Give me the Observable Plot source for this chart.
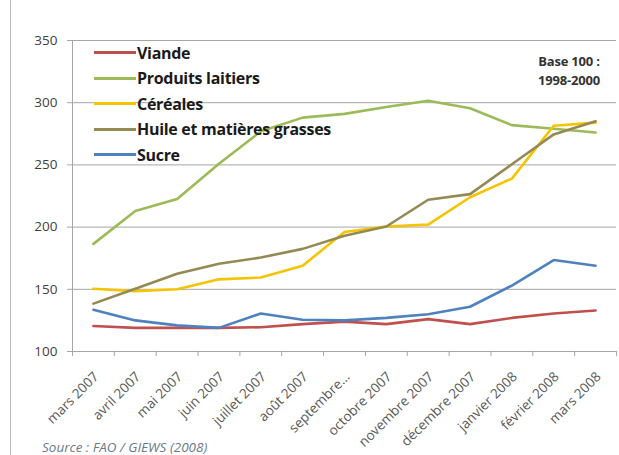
<!DOCTYPE html>
<html>
<head>
<meta charset="utf-8">
<script src="https://cdn.jsdelivr.net/npm/d3@7"></script>
<script src="https://cdn.jsdelivr.net/npm/@observablehq/plot@0.6"></script>
<style>
  html, body { margin: 0; padding: 0; background: #fff; }
  #wrap { position: relative; width: 619px; height: 455px; overflow: hidden; font-family: "Open Sans", Lato, sans-serif; }
  #frame { position: absolute; left: 10px; top: 0; width: 1px; height: 455px; background: #b8b8b8; }
  #legend { position: absolute; left: 94px; top: 40px; }
  .lg { display: flex; align-items: center; height: 25.5px; font-weight: bold; font-size: 16px; color: #1a1a1a; letter-spacing: -0.3px; }
  .lg span.sw { display: inline-block; width: 42px; height: 3px; margin-right: 1px; }
  #base { position: absolute; left: 522px; top: 52px; width: 94px; text-align: center; font-weight: bold; font-size: 13px; line-height: 19px; color: #333; letter-spacing: -0.2px; }
  #source { position: absolute; left: 42px; top: 440px; font-style: italic; font-size: 13.5px; line-height: 14px; color: #6a7a8a; }
</style>
</head>
<body>
<div id="wrap">
  <div id="chart"></div>
  <div id="frame"></div>
  <div id="legend"></div>
  <div id="base">Base 100 :<br>1998-2000</div>
  <div id="source">Source : FAO / GIEWS (2008)</div>
</div>
<script>
const months = ["mars 2007","avril 2007","mai 2007","juin 2007","juillet 2007","août 2007","septembre...","octobre 2007","novembre 2007","décembre 2007","janvier 2008","février 2008","mars 2008"];
const seriesNames = ["Viande","Produits laitiers","Céréales","Huile et matières grasses","Sucre"];
const seriesColors = ["#C0504D","#9BBB59","#F5C400","#948A54","#4F81BD"];
const viande = [120.5,119,119,119,119.5,122,124,122,126,122,127,130.5,133];
const laitiers = [186.5,213,222.5,251,277,288,291,296.5,301.5,295.5,282,279,276];
const cereales = [150.5,148.5,150,158,159.5,169,196,200.5,202,224,239,281.5,284];
const huile = [138.5,150.5,162.5,170.5,175.5,182.5,193,200.5,222,226.5,250.5,274.5,285];
const sucre = [133.5,125,121,119,130.5,125.5,125,127,130,136,153,173.5,169];
const yTicks = [100,150,200,250,300,350];

const allSeries = [viande, laitiers, cereales, huile, sucre];
const data = [];
allSeries.forEach((vals, s) => vals.forEach((v, i) => data.push({i, v, s: seriesNames[s]})));
const idx = d3.range(months.length);
const bounds = d3.range(months.length + 1).map(k => k - 0.5);

const chart = Plot.plot({
  width: 619,
  height: 455,
  marginLeft: 72,
  marginRight: 3,
  marginTop: 40,
  marginBottom: 104,
  style: {fontFamily: "'Open Sans', Lato, sans-serif", background: "transparent"},
  x: {type: "linear", domain: [-0.5, months.length - 0.5]},
  y: {domain: [100, 350]},
  color: {domain: seriesNames, range: seriesColors},
  marks: [
    Plot.ruleY(yTicks, {stroke: "#a6a6a6", strokeWidth: 1}),
    Plot.ruleX([-0.5], {stroke: "#a6a6a6"}),
    Plot.axisY(yTicks, {tickSize: 5, tickPadding: 10, stroke: "#a6a6a6", fontSize: 13.5, fill: "#404040", label: null}),
    Plot.axisX(bounds, {tickSize: 5, tickFormat: () => "", stroke: "#a6a6a6", label: null}),
    Plot.axisX(idx, {tickSize: 0, tickPadding: 23, tickRotate: -45, tickFormat: i => months[i], fontSize: 13.5, fill: "#595959", label: null, dx: 3}),
    Plot.line(data, {x: "i", y: "v", z: "s", stroke: "s", strokeWidth: 2.6, curve: "linear"})
  ]
});
document.getElementById("chart").appendChild(chart);

const lg = document.getElementById("legend");
seriesNames.forEach((n, k) => {
  const row = document.createElement("div");
  row.className = "lg";
  row.innerHTML = `<span class="sw" style="background:${seriesColors[k]}"></span>${n}`;
  lg.appendChild(row);
});
</script>
</body>
</html>
